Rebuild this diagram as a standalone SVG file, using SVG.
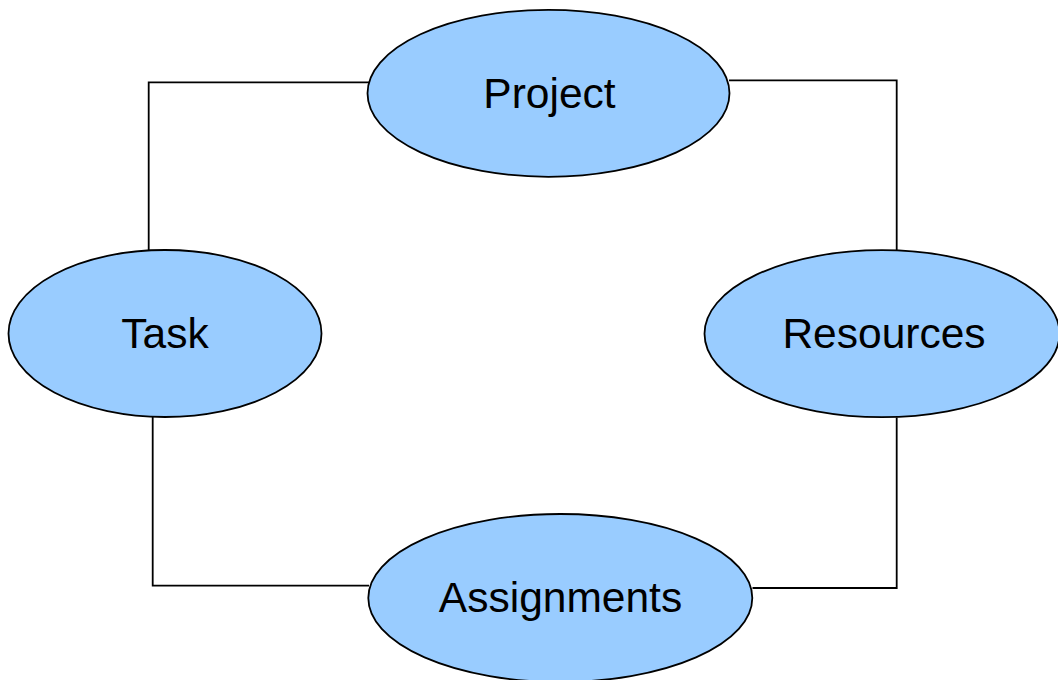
<svg xmlns="http://www.w3.org/2000/svg" width="1058" height="680" viewBox="0 0 1058 680">
<style>
.node ellipse{fill:#99ccff;stroke:#000;stroke-width:1.8}
.node text{font-family:"Liberation Sans",Arial,sans-serif;font-size:42.5px;fill:#000;text-anchor:middle}
.conn{fill:none;stroke:#000;stroke-width:1.8}
</style>
<rect width="1058" height="680" fill="#fff"/>
<g id="connectors">
<polyline class="conn" points="369,82.3 148.7,82.3 148.7,250"/>
<polyline class="conn" points="729,80.3 896.7,80.3 896.7,250.5"/>
<polyline class="conn" points="152.7,417 152.7,585.7 369,585.7"/>
<polyline class="conn" points="896.7,417.5 896.7,588 752.5,588"/>
</g>
<g id="project" class="node">
<ellipse cx="548.5" cy="93.3" rx="181" ry="83.5"/>
<text x="549.5" y="108">Project</text>
</g>
<g id="task" class="node">
<ellipse cx="165" cy="333.5" rx="156.5" ry="83.5"/>
<text x="165" y="348">Task</text>
</g>
<g id="resources" class="node">
<ellipse cx="882" cy="333.7" rx="177.5" ry="83.5"/>
<text x="884" y="348">Resources</text>
</g>
<g id="assignments" class="node">
<ellipse cx="560.3" cy="598" rx="192" ry="84"/>
<text x="560.5" y="611.5">Assignments</text>
</g>
</svg>
